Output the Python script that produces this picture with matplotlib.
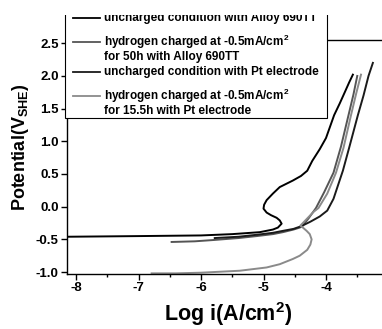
import matplotlib
matplotlib.use("Agg")
import matplotlib.pyplot as plt
from matplotlib.lines import Line2D
from matplotlib.patches import Rectangle


# curve data: log i (A/cm2) vs potential (V_SHE)
alloy_uncharged_logi = [-8.14, -7.0, -6.0, -5.5, -5.06, -4.85, -4.77, -4.71, -4.74, -4.79, -4.88,
                        -4.95, -5.0, -4.99, -4.95, -4.85, -4.74, -4.53, -4.40, -4.30, -4.22, -4.10,
                        -4.0, -3.87, -3.78, -3.70, -3.63, -3.57]
alloy_uncharged_pot = [-0.46, -0.45, -0.44, -0.42, -0.39, -0.35, -0.32, -0.26, -0.21, -0.17, -0.13,
                       -0.09, -0.03, 0.03, 0.10, 0.20, 0.30, 0.40, 0.47, 0.55, 0.70, 0.88,
                       1.05, 1.40, 1.58, 1.75, 1.90, 2.02]

alloy_charged_logi = [-6.47, -6.1, -5.8, -5.4, -5.11, -4.85, -4.69, -4.52, -4.42, -4.38,
                      -4.28, -4.16, -4.03, -3.88, -3.76, -3.64, -3.56, -3.50]
alloy_charged_pot = [-0.54, -0.53, -0.51, -0.48, -0.45, -0.42, -0.39, -0.35, -0.32, -0.30,
                     -0.18, -0.02, 0.22, 0.52, 0.92, 1.40, 1.72, 2.00]

pt_uncharged_logi = [-5.78, -5.4, -5.11, -4.85, -4.69, -4.52, -4.40, -4.25, -4.10, -3.98,
                     -3.88, -3.80, -3.73, -3.63, -3.49, -3.40, -3.32, -3.25]
pt_uncharged_pot = [-0.48, -0.46, -0.43, -0.40, -0.37, -0.34, -0.30, -0.23, -0.15, -0.06,
                    0.12, 0.35, 0.55, 0.90, 1.40, 1.70, 2.00, 2.20]

pt_charged_logi = [-6.79, -6.4, -6.0, -5.38, -4.95, -4.74, -4.53, -4.42, -4.30, -4.25, -4.23,
                   -4.26, -4.31, -4.37, -4.41, -4.32, -4.20, -4.12, -3.98, -3.84, -3.72,
                   -3.60, -3.52, -3.44]
pt_charged_pot = [-1.02, -1.02, -1.01, -0.98, -0.93, -0.88, -0.80, -0.75, -0.66, -0.58, -0.50,
                  -0.42, -0.37, -0.32, -0.29, -0.20, -0.08, -0.02, 0.20, 0.52, 0.90,
                  1.40, 1.72, 2.02]

labels = [
    "uncharged condition with Alloy 690TT",
    "hydrogen charged at -0.5mA/cm$^2$\nfor 50h with Alloy 690TT",
    "uncharged condition with Pt electrode",
    "hydrogen charged at -0.5mA/cm$^2$\nfor 15.5h with Pt electrode",
]
colors = ["#000000", "#555555", "#1a1a1a", "#8a8a8a"]

x_ticks = [-8, -7, -6, -5, -4, -3]
y_ticks = [-1.0, -0.5, 0.0, 0.5, 1.0, 1.5, 2.0, 2.5]

W, H = 382, 329

plt.rcParams["font.family"] = ["Liberation Sans", "DejaVu Sans"]
plt.rcParams["font.weight"] = "bold"
plt.rcParams["axes.unicode_minus"] = False
plt.rcParams["mathtext.fontset"] = "custom"
plt.rcParams["mathtext.rm"] = "Liberation Sans:bold"
plt.rcParams["mathtext.it"] = "Liberation Sans:bold"
plt.rcParams["mathtext.bf"] = "Liberation Sans:bold"


def fx(px):
    return px / W


def fy(py):
    return 1 - py / H


fig = plt.figure(figsize=(W / 100, H / 100), dpi=100)
ax = fig.add_axes([fx(67), fy(274), (395 - 67) / W, (274 - 40) / H])

series = [
    (alloy_uncharged_logi, alloy_uncharged_pot),
    (alloy_charged_logi, alloy_charged_pot),
    (pt_uncharged_logi, pt_uncharged_pot),
    (pt_charged_logi, pt_charged_pot),
]
for (xs, ys), c in zip(series, colors):
    ax.plot(xs, ys, color=c, lw=1.4)

ax.set_xlim(-8.144, -2.896)
ax.set_ylim(-1.03, 2.55)
ax.set_xticks(x_ticks)
ax.set_xticklabels([f"{t:d}" for t in x_ticks])
ax.set_xticks([t + 0.5 for t in x_ticks[:-1]], minor=True)
ax.set_yticks(y_ticks)
ax.set_yticklabels([f"{t:.1f}" for t in y_ticks])
ax.tick_params(which="major", direction="out", length=4, width=1, labelsize=9.5, pad=2)
ax.tick_params(which="minor", direction="out", length=2.5, width=1)
for sp in ax.spines.values():
    sp.set_linewidth(1.0)

ax.set_xlabel("Log i(A/cm$^2$)", fontsize=15.5, fontweight="bold", va="top")
ax.xaxis.set_label_coords(0.49, -0.112)
ax.set_ylabel("Potential(V$_{SHE}$)", fontsize=13, fontweight="bold")
ax.yaxis.set_label_coords(-0.11, 0.54)

# legend box drawn in figure pixels, partly above the axes like the scan
fig.add_artist(Rectangle((fx(65), fy(118)), (327 - 65) / W, (118 - 5) / H,
                         transform=fig.transFigure, facecolor="white",
                         edgecolor="black", lw=0.8, zorder=5))
row_y = [18, 42, 72, 96]
for label, c, y in zip(labels, colors, row_y):
    fig.add_artist(Line2D([fx(73), fx(100)], [fy(y), fy(y)], transform=fig.transFigure,
                          color=c, lw=1.3, zorder=6))
    for k, line in enumerate(label.split("\n")):
        fig.text(fx(104), fy(y + 15 * k), line, fontsize=8.5, fontweight="bold",
                 va="center", ha="left", zorder=6)

# blank strip at the top of the scan
fig.add_artist(Rectangle((0, fy(15)), 1, 15 / H, transform=fig.transFigure,
                         facecolor="white", edgecolor="none", zorder=10))

fig.savefig("out.png", dpi=100)
